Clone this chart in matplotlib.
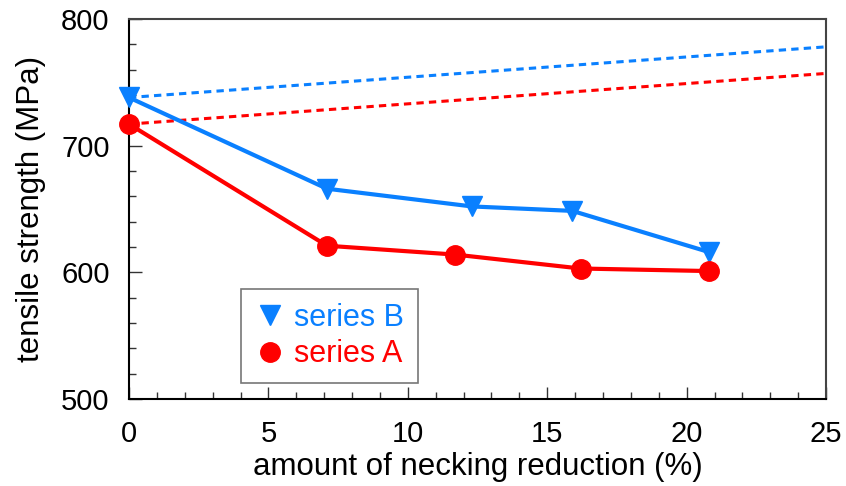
import matplotlib
matplotlib.use("Agg")
import matplotlib.pyplot as plt
from matplotlib.ticker import MultipleLocator

plt.rcParams['font.family'] = ['Liberation Sans', 'DejaVu Sans']

# data
x_b = [0, 7.1, 12.3, 15.9, 20.8]
y_b = [738, 666, 652, 648.5, 616]
x_a = [0, 7.1, 11.7, 16.2, 20.8]
y_a = [717, 621, 614, 603, 601]
trend_x = [0, 25]
trend_b = [738, 778]
trend_a = [717, 757]

blue = '#0A80FF'
red = '#FF0000'

fig = plt.figure(figsize=(8.46, 4.86), dpi=100)
ax = fig.add_axes([0.1525, 0.179, 0.8239, 0.782])

ax.plot(trend_x, trend_b, '--', color=blue, lw=2.2, dashes=(2.4, 1.7), zorder=2)
ax.plot(trend_x, trend_a, '--', color=red, lw=2.2, dashes=(2.4, 1.7), zorder=2)
lb, = ax.plot(x_b, y_b, '-', color=blue, lw=3, marker='v', ms=14, mec=blue, mfc=blue, zorder=3, clip_on=False)
la, = ax.plot(x_a, y_a, '-', color=red, lw=3, marker='o', ms=14, mec=red, mfc=red, zorder=3, clip_on=False)

ax.set_xlim(0, 25)
ax.set_ylim(500, 800)
ax.xaxis.set_major_locator(MultipleLocator(5))
ax.xaxis.set_minor_locator(MultipleLocator(1))
ax.yaxis.set_major_locator(MultipleLocator(100))
ax.yaxis.set_minor_locator(MultipleLocator(20))
ax.tick_params(which='both', direction='in', top=False, right=False, labelsize=21, color='#333333', width=1)
ax.tick_params(which='major', length=9)
ax.tick_params(which='minor', length=5)
ax.tick_params(axis='x', which='major', pad=15)
ax.tick_params(axis='y', which='major', pad=14)

for s in ['left', 'bottom']:
    ax.spines[s].set_color('black')
    ax.spines[s].set_linewidth(1.5)
for s in ['top', 'right']:
    ax.spines[s].set_color('#444444')
    ax.spines[s].set_linewidth(1.5)

ax.set_xlabel('amount of necking reduction (%)', fontsize=22.5, labelpad=3)
ax.set_ylabel('tensile strength (MPa)', fontsize=22.5, labelpad=11)

leg = ax.legend([lb, la], ['series B', 'series A'], loc='upper left',
                bbox_to_anchor=(0.1607, 0.2895), fontsize=22, frameon=True,
                fancybox=False, edgecolor='#555555', handlelength=1.0,
                handletextpad=0.3, borderpad=0.45, labelspacing=0.22,
                borderaxespad=0)
leg.get_frame().set_linewidth(1.2)
for h in leg.legend_handles:
    h.set_linestyle('None')
for t, c in zip(leg.get_texts(), [blue, red]):
    t.set_color(c)

fig.savefig('out.png', dpi=100)
